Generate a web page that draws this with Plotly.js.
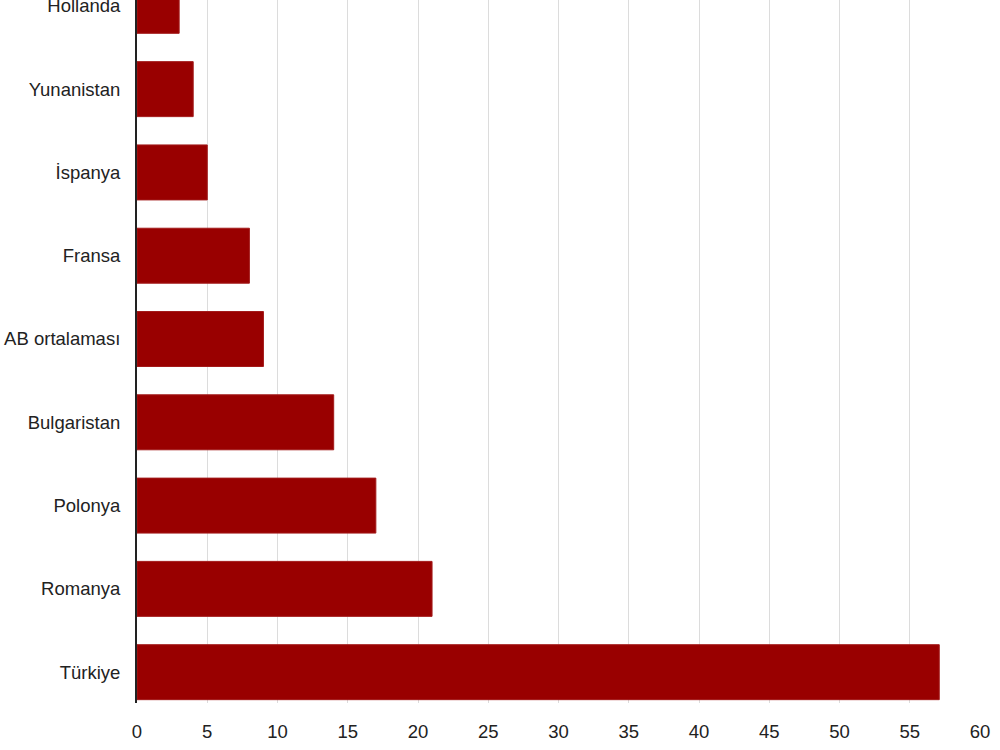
<!DOCTYPE html>
<html>
<head>
<meta charset="utf-8">
<script src="https://cdn.plot.ly/plotly-3.0.1.min.js"></script>
<style>
  html, body { margin:0; padding:0; background:#fff; }
  #chart { width:1000px; height:750px; }
</style>
</head>
<body>
<div id="chart"></div>
<script>
// bottom-to-top order, as plotly draws categories
const countries = ['Türkiye','Romanya','Polonya','Bulgaristan','AB ortalaması','Fransa','İspanya','Yunanistan','Hollanda'];
const values    = [57.1, 21, 17, 14, 9, 8, 5, 4, 3];
const xTicks    = [0,5,10,15,20,25,30,35,40,45,50,55,60];

const trace = {
  type:'bar', orientation:'h',
  x:values, y:countries,
  marker:{color:'#990000', line:{color:'#a31a1a', width:1}},
  hoverinfo:'x+y'
};

const layout = {
  width:1000, height:750,
  margin:{l:137, r:20, t:0, b:47},
  paper_bgcolor:'#fff', plot_bgcolor:'#fff',
  font:{family:'Liberation Sans, Arial, sans-serif', size:18.5, color:'#222'},
  bargap:0.34,
  showlegend:false,
  xaxis:{
    range:[0,60], tickvals:xTicks, ticktext:xTicks.map(String),
    showgrid:true, gridcolor:'#dcdcdc', gridwidth:1,
    zeroline:false, showline:false, ticks:'', ticklabelstandoff:15,
    fixedrange:true
  },
  yaxis:{
    type:'category', range:[-0.37, 8.07],
    showgrid:false, zeroline:false,
    showline:true, linecolor:'#222', linewidth:2,
    ticks:'', ticklabelstandoff:11,
    fixedrange:true
  }
};

Plotly.newPlot('chart', [trace], layout, {displayModeBar:false, staticPlot:true});
</script>
</body>
</html>
